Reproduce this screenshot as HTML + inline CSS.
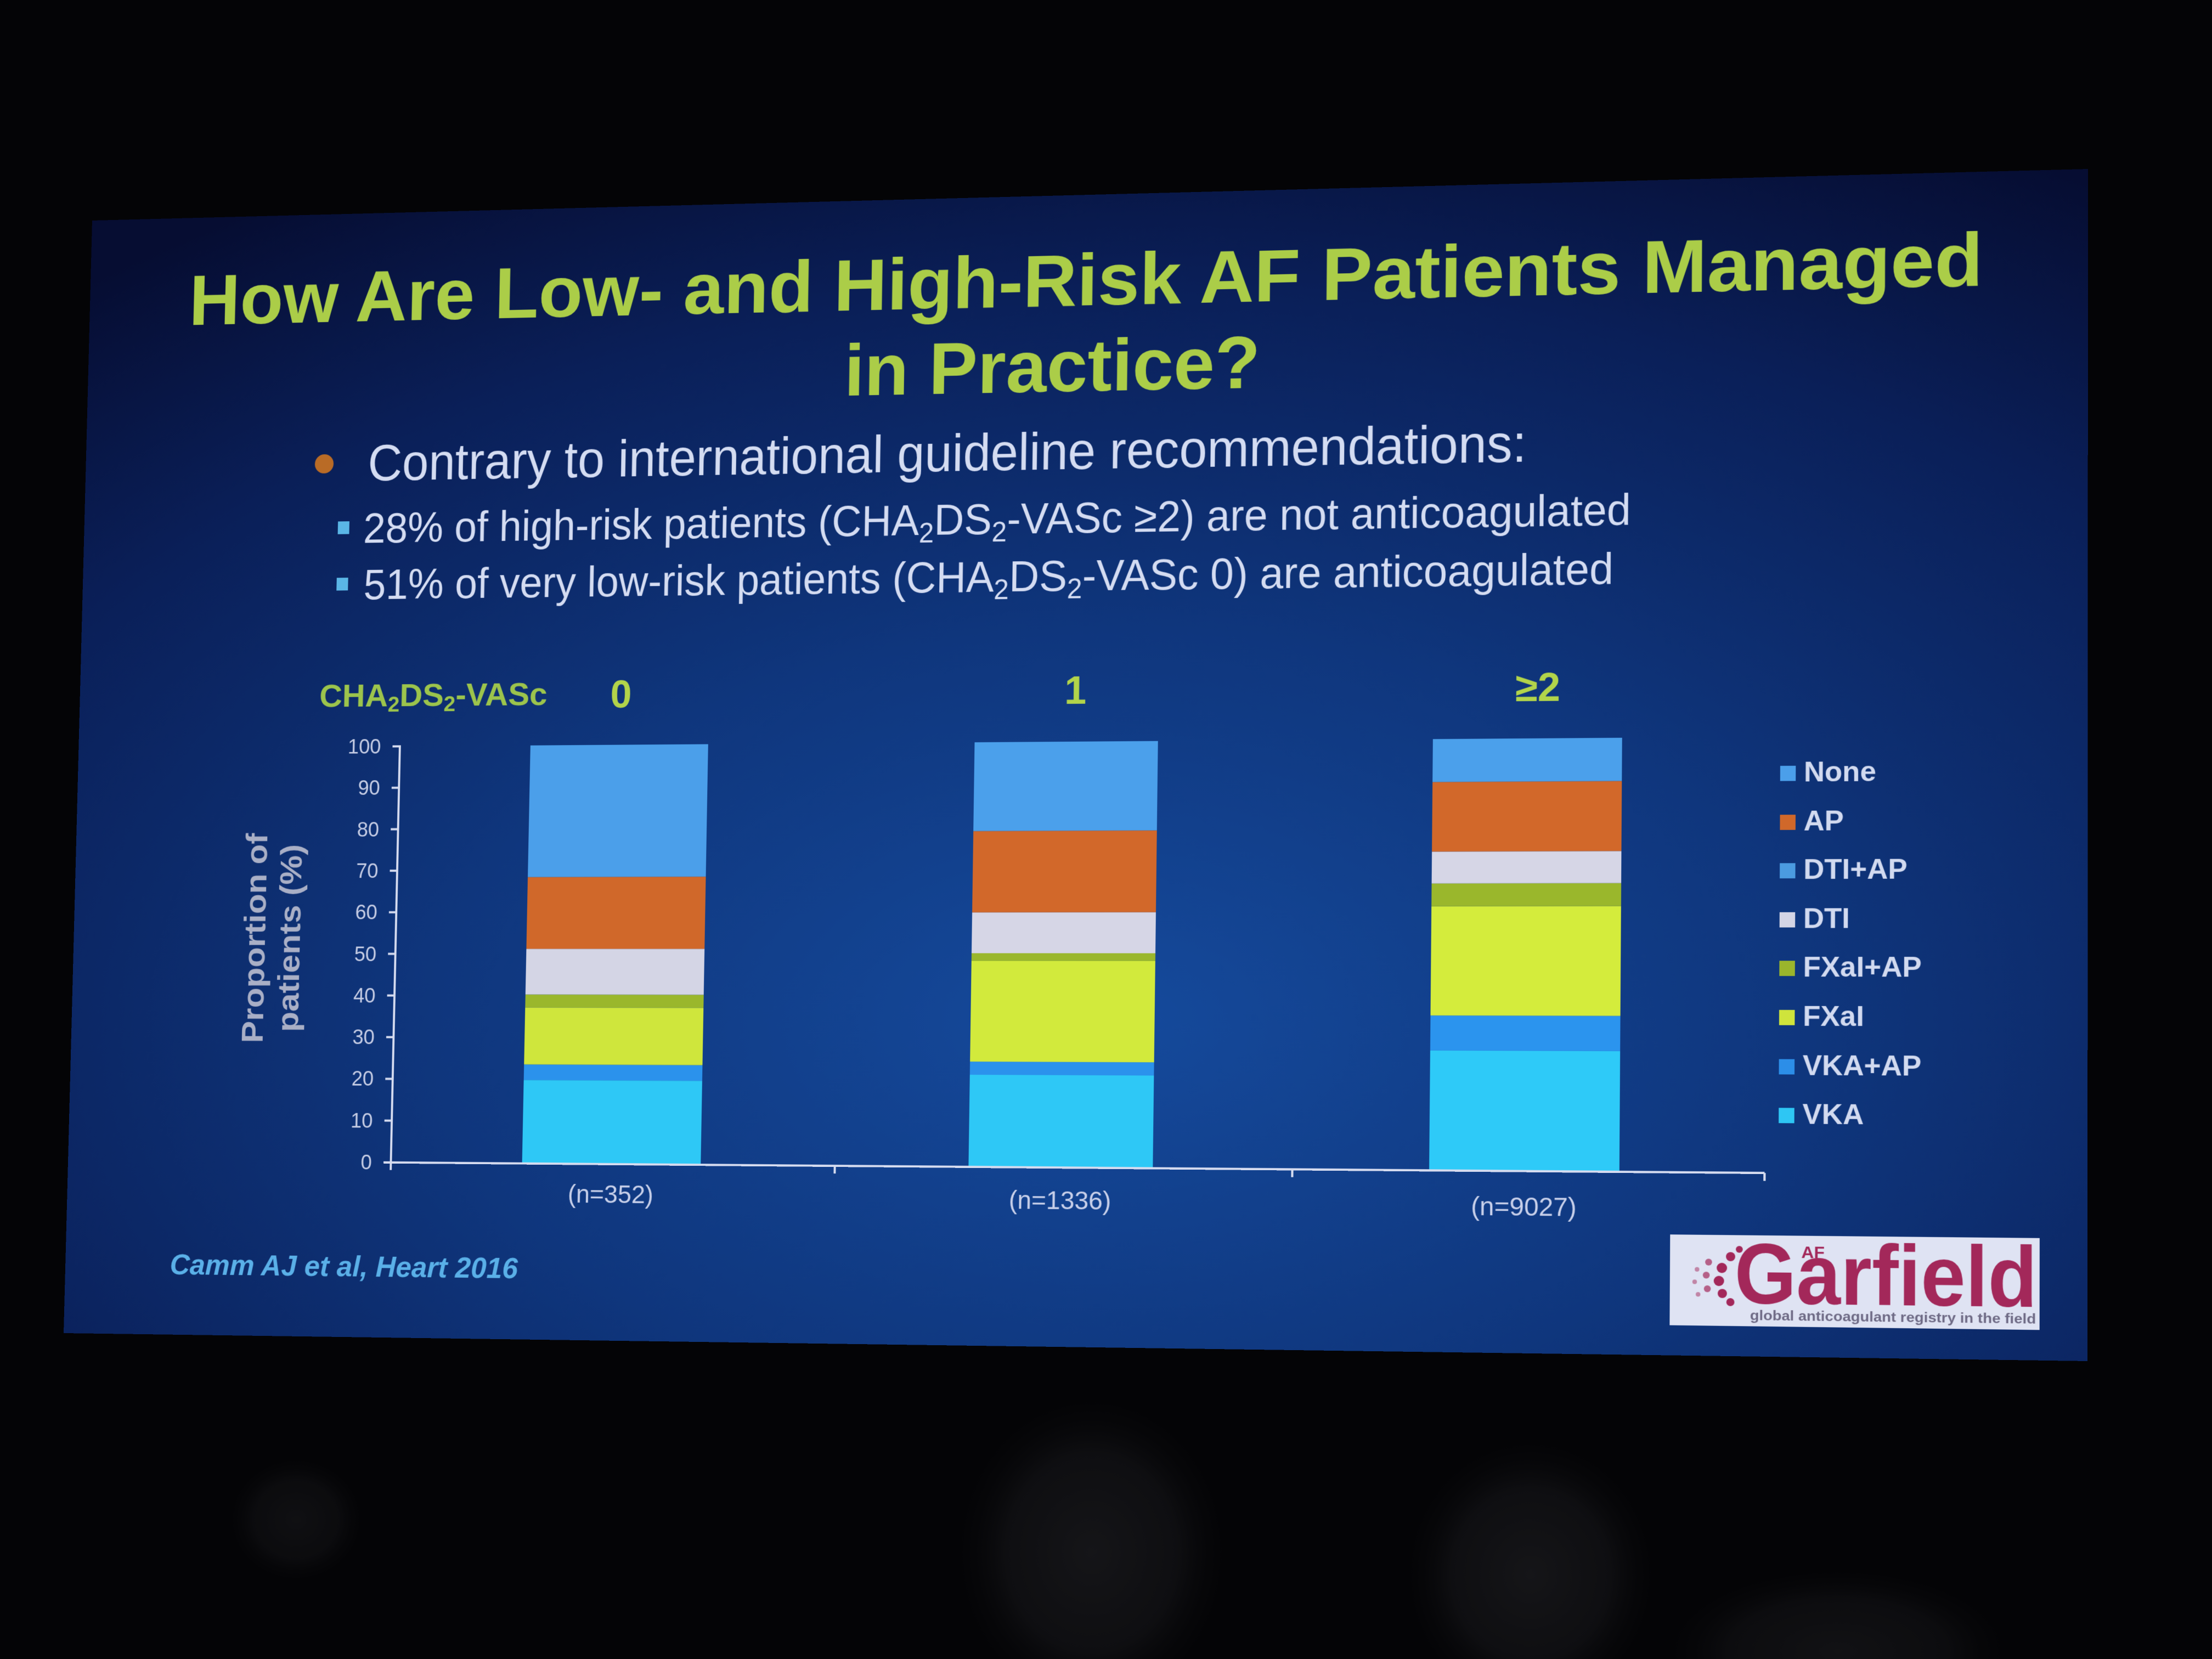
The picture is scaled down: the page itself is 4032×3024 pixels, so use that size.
<!DOCTYPE html>
<html><head><meta charset="utf-8">
<style>
html,body{margin:0;padding:0;width:4032px;height:3024px;overflow:hidden;background:#040406;}
#bgsv{position:absolute;left:0;top:0;}
#slide{position:absolute;left:0;top:0;width:3660px;height:2100px;transform-origin:0 0;
transform:matrix3d(0.924937,-0.031271,0,-0.0000181429,-0.0255267,0.949696,0,-0.0000065919,0,0,1,0,168,402,0,1);}
#slide svg{display:block;}
</style></head>
<body>
<svg id="bgsv" width="4032" height="3024" viewBox="0 0 4032 3024">
  <defs>
    <radialGradient id="hd">
      <stop offset="0" stop-color="#151518" stop-opacity="1"/>
      <stop offset="0.6" stop-color="#111114" stop-opacity="0.8"/>
      <stop offset="1" stop-color="#040406" stop-opacity="0"/>
    </radialGradient>
  </defs>
  <rect width="4032" height="3024" fill="#040406"/>
  <ellipse cx="1990" cy="2830" rx="260" ry="300" fill="url(#hd)"/>
  <ellipse cx="2790" cy="2870" rx="240" ry="260" fill="url(#hd)"/>
  <ellipse cx="540" cy="2770" rx="130" ry="120" fill="url(#hd)" opacity="0.7"/>
  <ellipse cx="3350" cy="3010" rx="330" ry="160" fill="url(#hd)" opacity="0.8"/>
</svg>

<div id="slide">
<svg width="3660" height="2100" viewBox="0 0 3660 2100" font-family="'Liberation Sans', Arial, sans-serif">
  <defs>
    <radialGradient id="bg" cx="0.53" cy="0.72" r="0.85">
      <stop offset="0" stop-color="#154a9c"/>
      <stop offset="0.4" stop-color="#0f367d"/>
      <stop offset="0.75" stop-color="#0a1f58"/>
      <stop offset="1" stop-color="#060d32"/>
    </radialGradient>
  </defs>
  <rect x="0" y="0" width="3660" height="2100" fill="url(#bg)"/>

  <!-- Title -->
  <text x="194" y="204" font-weight="700" font-size="136" fill="#abcd48" textLength="3286" lengthAdjust="spacingAndGlyphs">How Are Low- and High-Risk AF Patients Managed</text>
  <text x="1444" y="362" font-weight="700" font-size="136" fill="#abcd48" textLength="762" lengthAdjust="spacingAndGlyphs">in Practice?</text>

  <!-- Bullets -->
  <circle cx="463" cy="472" r="18" fill="#b96b26"/>
  <text x="547" y="505" font-family="'Liberation Sans Narrow','Liberation Sans',Arial,sans-serif" font-size="96" fill="#d4dcf2" textLength="2137" lengthAdjust="spacingAndGlyphs">Contrary to international guideline recommendations:</text>

  <rect x="492" y="581" width="22" height="24" fill="#5ab6e6"/>
  <text x="541" y="622" font-family="'Liberation Sans Narrow','Liberation Sans',Arial,sans-serif" font-size="80" fill="#d4dcf2" textLength="2328" lengthAdjust="spacingAndGlyphs">28% of high-risk patients (CHA<tspan font-size="52" dy="14">2</tspan><tspan dy="-14">DS</tspan><tspan font-size="52" dy="14">2</tspan><tspan dy="-14">-VASc ≥2) are not anticoagulated</tspan></text>

  <rect x="492" y="687" width="22" height="24" fill="#5ab6e6"/>
  <text x="544" y="728" font-family="'Liberation Sans Narrow','Liberation Sans',Arial,sans-serif" font-size="80" fill="#d4dcf2" textLength="2295" lengthAdjust="spacingAndGlyphs">51% of very low-risk patients (CHA<tspan font-size="52" dy="14">2</tspan><tspan dy="-14">DS</tspan><tspan font-size="52" dy="14">2</tspan><tspan dy="-14">-VASc 0) are anticoagulated</tspan></text>

  <!-- Chart header -->
  <text x="464" y="929" font-weight="700" font-size="60" fill="#9cc44c" textLength="434" lengthAdjust="spacingAndGlyphs">CHA<tspan font-size="40" dy="10">2</tspan><tspan dy="-10">DS</tspan><tspan font-size="40" dy="10">2</tspan><tspan dy="-10">-VASc</tspan></text>
  <text x="1037" y="935" text-anchor="middle" font-weight="700" font-size="72" fill="#b2d44a">0</text>
  <text x="1878" y="935" text-anchor="middle" font-weight="700" font-size="72" fill="#b2d44a">1</text>
  <text x="2707" y="937" text-anchor="middle" font-weight="700" font-size="72" fill="#b2d44a">≥2</text>

  <!-- Y axis title -->
  <text transform="translate(370,1361) rotate(-90)" text-anchor="middle" font-weight="700" font-size="58" fill="#a9afc6" textLength="392" lengthAdjust="spacingAndGlyphs">Proportion of</text>
  <text transform="translate(437,1361) rotate(-90)" text-anchor="middle" font-weight="700" font-size="58" fill="#a9afc6" textLength="350" lengthAdjust="spacingAndGlyphs">patients (%)</text>

  <!-- Bars: bar0 -->
  <g>
    <rect x="868" y="1623.2" width="334" height="153.8" fill="#2ec8f6"/>
    <rect x="868" y="1594.6" width="334" height="28.6" fill="#2b92ec"/>
    <rect x="868" y="1489.4" width="334" height="105.2" fill="#cfe63c"/>
    <rect x="868" y="1465.5" width="334" height="23.9" fill="#9ab72c"/>
    <rect x="868" y="1381.2" width="334" height="84.3" fill="#d4d5e5"/>
    <rect x="868" y="1248.3" width="334" height="132.9" fill="#d0682a"/>
    <rect x="868" y="1004" width="334" height="244.3" fill="#4b9fea"/>
  </g>
  <!-- bar1 -->
  <g>
    <rect x="1695" y="1610" width="334" height="167" fill="#2ec8f6"/>
    <rect x="1695" y="1586.1" width="334" height="23.9" fill="#2b92ec"/>
    <rect x="1695" y="1402.9" width="334" height="183.2" fill="#d2ea3c"/>
    <rect x="1695" y="1389" width="334" height="13.9" fill="#9ab72c"/>
    <rect x="1695" y="1314.7" width="334" height="74.3" fill="#d6d6e6"/>
    <rect x="1695" y="1166.3" width="334" height="148.4" fill="#d2682a"/>
    <rect x="1695" y="1004" width="334" height="162.3" fill="#4ba0eb"/>
  </g>
  <!-- bar2 -->
  <g>
    <rect x="2522" y="1562.9" width="334" height="214.1" fill="#2ecaf8"/>
    <rect x="2522" y="1500.3" width="334" height="62.6" fill="#2b94ee"/>
    <rect x="2522" y="1304.7" width="334" height="195.6" fill="#d4ec3c"/>
    <rect x="2522" y="1263.7" width="334" height="41" fill="#9ab72c"/>
    <rect x="2522" y="1206.5" width="334" height="57.2" fill="#d6d6e6"/>
    <rect x="2522" y="1081.3" width="334" height="125.2" fill="#d2682a"/>
    <rect x="2522" y="1004" width="334" height="77.3" fill="#4ba0eb"/>
  </g>

  <!-- Axes -->
  <g stroke="#d6dcf0" stroke-width="4" fill="none">
    <line x1="620" y1="1002" x2="620" y2="1791"/>
    <line x1="606" y1="1777" x2="3108" y2="1777"/>
    <line x1="1450" y1="1777" x2="1450" y2="1791"/>
    <line x1="2279" y1="1777" x2="2279" y2="1791"/>
    <line x1="3108" y1="1777" x2="3108" y2="1791"/>
    <line x1="606" y1="1004" x2="620" y2="1004"/>
    <line x1="606" y1="1081.3" x2="620" y2="1081.3"/>
    <line x1="606" y1="1158.6" x2="620" y2="1158.6"/>
    <line x1="606" y1="1235.9" x2="620" y2="1235.9"/>
    <line x1="606" y1="1313.2" x2="620" y2="1313.2"/>
    <line x1="606" y1="1390.5" x2="620" y2="1390.5"/>
    <line x1="606" y1="1467.8" x2="620" y2="1467.8"/>
    <line x1="606" y1="1545.1" x2="620" y2="1545.1"/>
    <line x1="606" y1="1622.4" x2="620" y2="1622.4"/>
    <line x1="606" y1="1699.7" x2="620" y2="1699.7"/>
  </g>
  <g font-size="38" fill="#c5cce4" text-anchor="end">
    <text x="584" y="1017">100</text>
    <text x="584" y="1094">90</text>
    <text x="584" y="1172">80</text>
    <text x="584" y="1249">70</text>
    <text x="584" y="1326">60</text>
    <text x="584" y="1404">50</text>
    <text x="584" y="1481">40</text>
    <text x="584" y="1558">30</text>
    <text x="584" y="1635">20</text>
    <text x="584" y="1713">10</text>
    <text x="584" y="1790">0</text>
  </g>

  <!-- n labels -->
  <g font-size="46" fill="#c8d0ea" text-anchor="middle">
    <text x="1035" y="1848">(n=352)</text>
    <text x="1862" y="1852">(n=1336)</text>
    <text x="2689" y="1856">(n=9027)</text>
  </g>

  <!-- Legend -->
  <g font-size="50" font-weight="700" fill="#d2daf0">
    <rect x="3132" y="1056" width="27" height="27" fill="#4b9fea"/>
    <text x="3173" y="1084">None</text>
    <rect x="3132" y="1143" width="27" height="27" fill="#d0682a"/>
    <text x="3173" y="1171">AP</text>
    <rect x="3132" y="1229" width="27" height="27" fill="#4b9be0"/>
    <text x="3173" y="1257">DTI+AP</text>
    <rect x="3132" y="1316" width="27" height="27" fill="#d4d5e5"/>
    <text x="3173" y="1344">DTI</text>
    <rect x="3132" y="1402" width="27" height="27" fill="#9ab52c"/>
    <text x="3173" y="1430">FXaI+AP</text>
    <rect x="3132" y="1489" width="27" height="27" fill="#cfe43c"/>
    <text x="3173" y="1517">FXaI</text>
    <rect x="3132" y="1576" width="27" height="27" fill="#2c8ee8"/>
    <text x="3173" y="1604">VKA+AP</text>
    <rect x="3132" y="1662" width="27" height="27" fill="#2ec6f4"/>
    <text x="3173" y="1690">VKA</text>
  </g>

  <!-- Citation -->
  <text x="202" y="1988" font-weight="700" font-style="italic" font-size="54" fill="#5ab0e8" textLength="662" lengthAdjust="spacingAndGlyphs">Camm AJ et al, Heart 2016</text>

  <!-- Logo -->
  <rect x="2945" y="1887" width="634" height="160" fill="#dfe3f3"/>
  <g fill="#a3285a">
    <circle cx="3050" cy="1925" r="8"/>
    <circle cx="3035" cy="1945" r="9"/>
    <circle cx="3030" cy="1968" r="9"/>
    <circle cx="3036" cy="1990" r="8"/>
    <circle cx="3050" cy="2005" r="7"/>
    <circle cx="3012" cy="1935" r="6" opacity="0.7"/>
    <circle cx="3008" cy="1958" r="6" opacity="0.7"/>
    <circle cx="3010" cy="1982" r="6" opacity="0.7"/>
    <circle cx="2992" cy="1948" r="4" opacity="0.5"/>
    <circle cx="2988" cy="1970" r="4" opacity="0.5"/>
    <circle cx="2994" cy="1992" r="4" opacity="0.5"/>
    <circle cx="3065" cy="1912" r="6"/>
  </g>
  <text x="3057" y="2007" font-weight="700" font-size="150" fill="#a3285a" textLength="518" lengthAdjust="spacingAndGlyphs">Garfield</text>
  <text x="3172" y="1926" font-weight="700" font-size="30" fill="#a3285a">AF</text>
  <text x="3084" y="2036" font-weight="700" font-size="24" fill="#6e6a85" textLength="489" lengthAdjust="spacingAndGlyphs">global anticoagulant registry in the field</text>
</svg>
</div>
</body></html>
